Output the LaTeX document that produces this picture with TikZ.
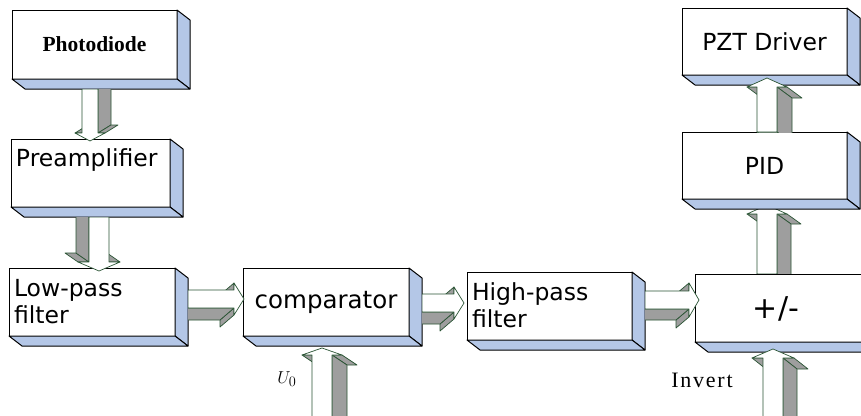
\documentclass[tikz,border=0pt]{standalone}
\usepackage{fontspec}
\setmainfont{DejaVu Sans}
\newfontfamily\timesfont{Liberation Serif}
\usetikzlibrary{calc}

\definecolor{sideblue}{RGB}{180,199,231}
\definecolor{arrowgray}{RGB}{158,158,158}
\definecolor{arrowline}{RGB}{42,84,52}

\tikzset{
  block/.style={draw=black, line width=1pt, fill=white, inner sep=0pt, outer sep=0pt,
                anchor=north west, font=\fontsize{23.5}{27}\selectfont},
  depthface/.style={draw=black, line width=1pt, fill=sideblue, line join=round},
  arrowside/.style={fill=arrowgray, draw=arrowline, line width=0.7pt, line join=round},
  arrowfront/.style={fill=white, draw=arrowline, line width=0.7pt, line join=round},
  blocklabel/.style={inner sep=0pt, outer sep=0pt, font=\fontsize{23.5}{27}\selectfont},
}

% right and bottom faces of a raised block
\newcommand\boxdepth[1]{%
  \filldraw[depthface] (#1.north east) -- ++(13,10) -- ($(#1.south east)+(13,10)$) -- (#1.south east) -- cycle;
  \filldraw[depthface] (#1.south west) -- (#1.south east) -- ++(13,10) -- ($(#1.south west)+(13,10)$) -- cycle;
}

% extruded block arrow: start, tip, shaft half width, head half width, head length, extrusion offset
\newcommand\blockarrow[6]{%
  \begin{scope}
    \coordinate (ba-S) at #1;
    \coordinate (ba-T) at #2;
    \coordinate (ba-d) at #6;
    \coordinate (ba-A) at ($(ba-S)!500pt!90:(ba-T)$);
    \coordinate (ba-B) at ($(ba-S)!500pt!-90:(ba-T)$);
    \clip (ba-A) -- (ba-B) -- ($(ba-B)!1000pt!-90:(ba-A)$) -- ($(ba-A)!1000pt!90:(ba-B)$) -- cycle;
    \coordinate (ba-H) at ($(ba-T)!#5!(ba-S)$);
    \coordinate (ba-1) at ($(ba-S)!#3!90:(ba-T)$);
    \coordinate (ba-2) at ($(ba-H)!#3!90:(ba-T)$);
    \coordinate (ba-3) at ($(ba-H)!#4!90:(ba-T)$);
    \coordinate (ba-4) at (ba-T);
    \coordinate (ba-5) at ($(ba-H)!#4!-90:(ba-T)$);
    \coordinate (ba-6) at ($(ba-H)!#3!-90:(ba-T)$);
    \coordinate (ba-7) at ($(ba-S)!#3!-90:(ba-T)$);
    \foreach \i/\j in {1/2,2/3,3/4,4/5,5/6,6/7,7/1}{%
      \path let \p1=(ba-\i), \p2=(ba-\j), \p3=(ba-d) in
        \pgfextra{\pgfmathsetmacro\bavis{((\x2)-(\x1))*(\y3)-((\y2)-(\y1))*(\x3)}\global\let\bavis\bavis};
      \ifdim\bavis pt>0pt
        \filldraw[arrowside] (ba-\i) -- (ba-\j) -- ($(ba-\j)+(ba-d)$) -- ($(ba-\i)+(ba-d)$) -- cycle;
      \fi
    }
    \filldraw[arrowfront] (ba-1) -- (ba-2) -- (ba-3) -- (ba-4) -- (ba-5) -- (ba-6) -- (ba-7) -- cycle;
  \end{scope}
}

\begin{document}
\begin{tikzpicture}[x=1pt,y=-1pt]
\useasboundingbox (0,0) rectangle (861,415);
\fill[white] (0,0) rectangle (861,415);

% block geometry
\path (682,132) node[block, minimum width=165pt, minimum height=67pt, draw=none, fill=none] (pidpos) {};
\path (695,274) node[block, minimum width=180pt, minimum height=68pt, draw=none, fill=none] (pmpos) {};

% +/- to PID (its head lies under the PID block)
\blockarrow{($(pmpos.north)+(-18,0)$)}{($(pidpos.south)+(2.5,6)$)}{10pt}{20pt}{9pt}{(14,10)}

% blocks
\node[block, minimum width=165pt, minimum height=69pt] (pd) at (12,10)
  {\timesfont\fontsize{21.5}{25}\selectfont\bfseries Photodiode};
\boxdepth{pd}
\node[block, minimum width=159pt, minimum height=68pt] (pa) at (11,139) {};
\boxdepth{pa}
\node[block, minimum width=166pt, minimum height=68pt] (lp) at (9,268) {};
\boxdepth{lp}
\node[block, minimum width=166pt, minimum height=68pt, font=\fontsize{24.5}{28}\selectfont] (cmp) at (243,268) {comparator};
\boxdepth{cmp}
\node[block, minimum width=165pt, minimum height=68pt] (hp) at (467,272) {};
\boxdepth{hp}
\node[block, minimum width=180pt, minimum height=68pt] (pm) at (695,274) {};
\boxdepth{pm}
\node[block, minimum width=165pt, minimum height=67pt] (pzt) at (682,8) {PZT Driver};
\boxdepth{pzt}
\node[block, minimum width=165pt, minimum height=67pt] (pid) at (682,132) {PID};
\boxdepth{pid}

% block texts placed off centre
\node[blocklabel, anchor=base west] (pa-text) at (16,166) {Preamplifier};
\node[blocklabel, anchor=north west, align=left] (lp-text) at (14,279) {Low-pass\\filter};
\node[blocklabel, anchor=north west, align=left] (hp-text) at (472,283) {High-pass\\filter};
\node[inner sep=0pt, font=\fontsize{30}{34}\selectfont] (pm-text) at (776,309) {+/-};

% signal arrows
\blockarrow{($(pd.south)+(-4.5,10)$)}{($(pa.north)+(-0.5,2)$)}{8pt}{15pt}{8pt}{(13,-8)}
\blockarrow{($(pa.south)+(8.5,10)$)}{($(lp.north)+(7,3)$)}{10pt}{21pt}{9pt}{(-13,-9)}
\blockarrow{($(lp.east)+(13,-3)$)}{($(cmp.west)+(1,-3)$)}{9pt}{16pt}{10pt}{(-14,12)}
\blockarrow{($(cmp.east)+(13,1)$)}{($(hp.west)+(-3,-3)$)}{9pt}{16pt}{10pt}{(-14,12)}
\blockarrow{($(hp.east)+(13,-6)$)}{($(pm.west)+(4,-8)$)}{9pt}{17pt}{10pt}{(-13,11)}
\blockarrow{($(cmp.south)+(-4,90)$)}{($(cmp.south)+(-4,12)$)}{10pt}{20pt}{7pt}{(15,10)}
\blockarrow{($(pm.south)+(-12,90)$)}{($(pm.south)+(-12,7)$)}{10pt}{21pt}{9pt}{(14,11)}
\blockarrow{($(pid.north)+(2.5,0)$)}{($(pzt.south)+(2.5,3)$)}{10pt}{20pt}{9pt}{(15,11)}

% input labels
\node[inner sep=0pt, font=\fontsize{19}{22}\selectfont] (u0) at (287,379) {$U_0$};
\node[inner sep=0pt, font=\timesfont\fontsize{22}{26}\selectfont\addfontfeature{LetterSpace=8}] (inv) at (702,380) {Invert};
\end{tikzpicture}
\end{document}
